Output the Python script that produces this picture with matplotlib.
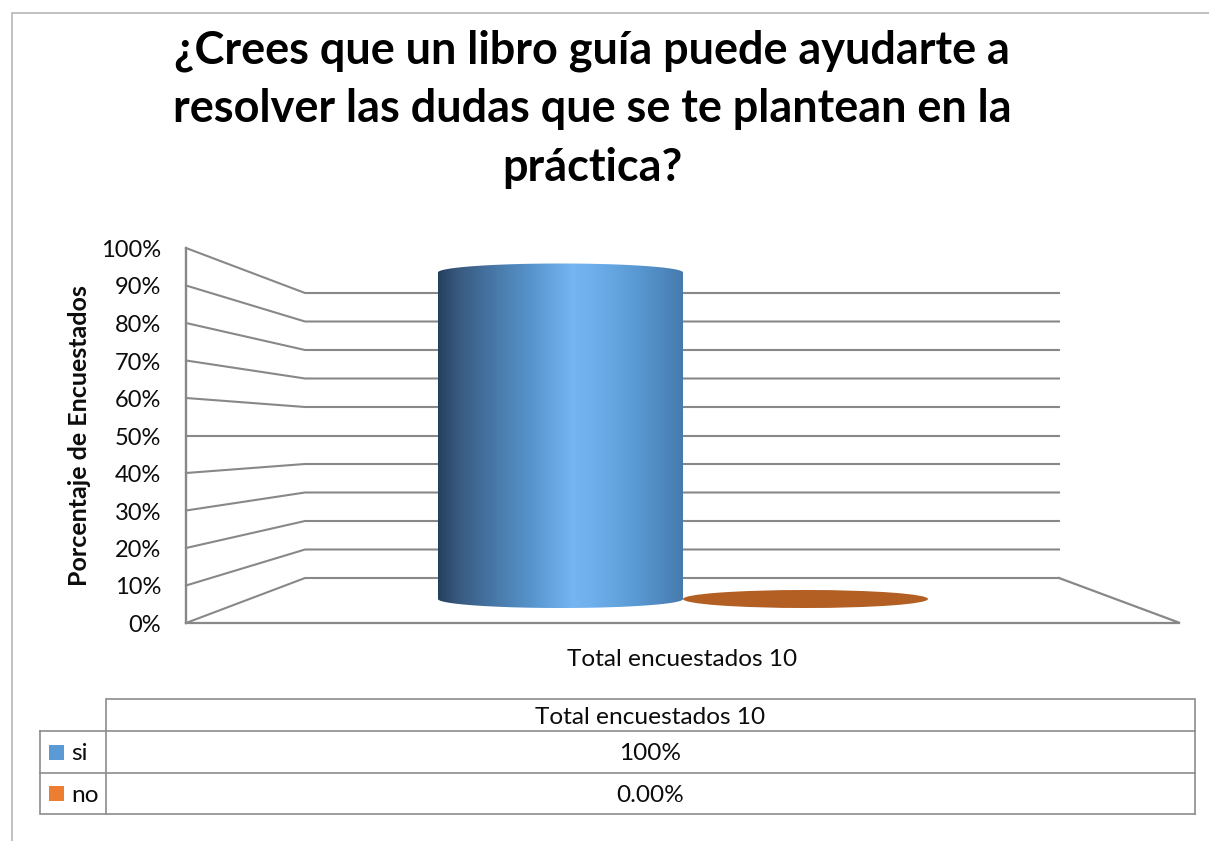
import numpy as np
import matplotlib
matplotlib.use("Agg")
import matplotlib.pyplot as plt
from matplotlib.colors import LinearSegmentedColormap
from matplotlib.patches import Ellipse, Rectangle, Polygon

# ---- data ----
title_lines = ["¿Crees que un libro guía puede ayudarte a",
               "resolver las dudas que se te plantean en la",
               "práctica?"]
y_label = "Porcentaje de Encuestados"
category = "Total encuestados 10"
series_names = ["si", "no"]
series_values = [100, 0]
series_table_labels = ["100%", "0.00%"]
series_colors = ["#5B9BD5", "#ED7D31"]
y_ticks = [0, 10, 20, 30, 40, 50, 60, 70, 80, 90, 100]

# ---- layout (pixels) ----
W, H = 1209, 841
FRONT_X, FRONT_R, BACK_X, BACK_R = 186, 1180, 305, 1059
FRONT_Y0, FRONT_Y100, BACK_Y0, BACK_Y100 = 623, 248, 578, 293
GRID = "#888888"
FONT = "Lato"
TEXT = "#0C0C0C"

def front_y(v):
    return FRONT_Y0 + (FRONT_Y100 - FRONT_Y0) * v / 100

def back_y(v):
    return BACK_Y0 + (BACK_Y100 - BACK_Y0) * v / 100

def mid_y(v):
    # cylinder centre line: 599 at 0 %, 272.5 at 100 %
    return 599 - 3.265 * v

fig = plt.figure(figsize=(W / 100, H / 100), dpi=100, facecolor="white")
ax = fig.add_axes([0, 0, 1, 1])
ax.set_xlim(0, W)
ax.set_ylim(H, 0)
ax.axis("off")

# outer frame (left and top edges only are visible)
ax.plot([11.5, 11.5, W], [H, 13, 13], color="#B0B0B0", lw=1.1, solid_joinstyle="miter")

# title
for line, yc in zip(title_lines, [51, 109, 168]):
    ax.text(592, yc, line, ha="center", va="center", fontsize=32.4,
            fontweight="bold", family=FONT, color="black")

# walls and gridlines
for v in y_ticks:
    ax.plot([FRONT_X, BACK_X, BACK_R], [front_y(v), back_y(v), back_y(v)],
            color=GRID, lw=1.5, solid_joinstyle="miter")
    ax.text(161, front_y(v) + 2.5, f"{v}%", ha="right", va="center",
            fontsize=17, family=FONT, color=TEXT)
ax.plot([FRONT_X, FRONT_X], [front_y(0), front_y(100)], color=GRID, lw=1.7)
ax.plot([FRONT_X, FRONT_R, BACK_R], [front_y(0), front_y(0), back_y(0)],
        color=GRID, lw=1.6, solid_joinstyle="miter")

# y axis title
ax.text(80, 436, y_label, rotation=90, ha="center", va="center",
        fontsize=18, fontweight="bold", family=FONT, color=TEXT)
# category label
ax.text(682, 659, category, ha="center", va="center", fontsize=17.6,
        family=FONT, color=TEXT)

# cylinders
CYL_W = 245
CYL_X = [438, 683]
ELL_H = 18
cmap = LinearSegmentedColormap.from_list("cyl", [
    (0.00, "#24405E"), (0.08, "#38597F"), (0.25, "#4A7CAD"), (0.38, "#5794CC"),
    (0.55, "#74B5F2"), (0.62, "#70B0EC"), (0.80, "#5B9BD5"), (1.00, "#467BAE")])

v = series_values[0]
x0 = CYL_X[0]
x1 = x0 + CYL_W
xc = (x0 + x1) / 2
yb = mid_y(0)
yt = mid_y(v)
h = ELL_H / 2
theta = np.linspace(0, np.pi, 120)
top = np.column_stack([xc - CYL_W / 2 * np.cos(theta), yt - h * np.sin(theta)])
bottom = np.column_stack([xc + CYL_W / 2 * np.cos(theta), yb + h * np.sin(theta)])
clip = Polygon(np.vstack([top, bottom]), closed=True, facecolor="none", edgecolor="none")
ax.add_patch(clip)
im = ax.imshow(np.linspace(0, 1, 256)[None, :], cmap=cmap, aspect="auto",
               extent=[x0, x1, yb + h, yt - h], zorder=3)
im.set_clip_path(clip)
ax.set_xlim(0, W)
ax.set_ylim(H, 0)

# zero-height series: flat disc only
x2 = CYL_X[1]
ax.add_patch(Ellipse((x2 + CYL_W / 2, mid_y(series_values[1])), CYL_W, ELL_H,
                     facecolor="#B35F24", edgecolor="none", zorder=3))

# data table
TX0, TX1, TX2 = 40, 105.5, 1195
TY = [699, 731, 773, 814]
tc = "#8C8C8C"
ax.plot([TX1, TX1, TX2, TX2], [TY[3], TY[0], TY[0], TY[3]], color=tc, lw=1.2, solid_joinstyle="miter")
ax.plot([TX0, TX2], [TY[1], TY[1]], color=tc, lw=1.2)
ax.plot([TX0, TX2], [TY[2], TY[2]], color=tc, lw=1.2)
ax.plot([TX0, TX0, TX2], [TY[1], TY[3], TY[3]], color=tc, lw=1.2, solid_joinstyle="miter")

ax.text((TX1 + TX2) / 2, (TY[0] + TY[1]) / 2 + 2, category, ha="center", va="center",
        fontsize=17.6, family=FONT, color=TEXT)
for i, (name, lab, col) in enumerate(zip(series_names, series_table_labels, series_colors)):
    yc = (TY[i + 1] + TY[i + 2]) / 2
    ax.add_patch(Rectangle((49, yc - 7.5), 15, 15, facecolor=col, edgecolor="none"))
    ax.text(71, yc + 2, name, ha="left", va="center", fontsize=17.6, family=FONT, color=TEXT)
    ax.text((TX1 + TX2) / 2, yc + 2, lab, ha="center", va="center", fontsize=17.6,
            family=FONT, color=TEXT)

fig.savefig("out.png", dpi=100, facecolor="white")
